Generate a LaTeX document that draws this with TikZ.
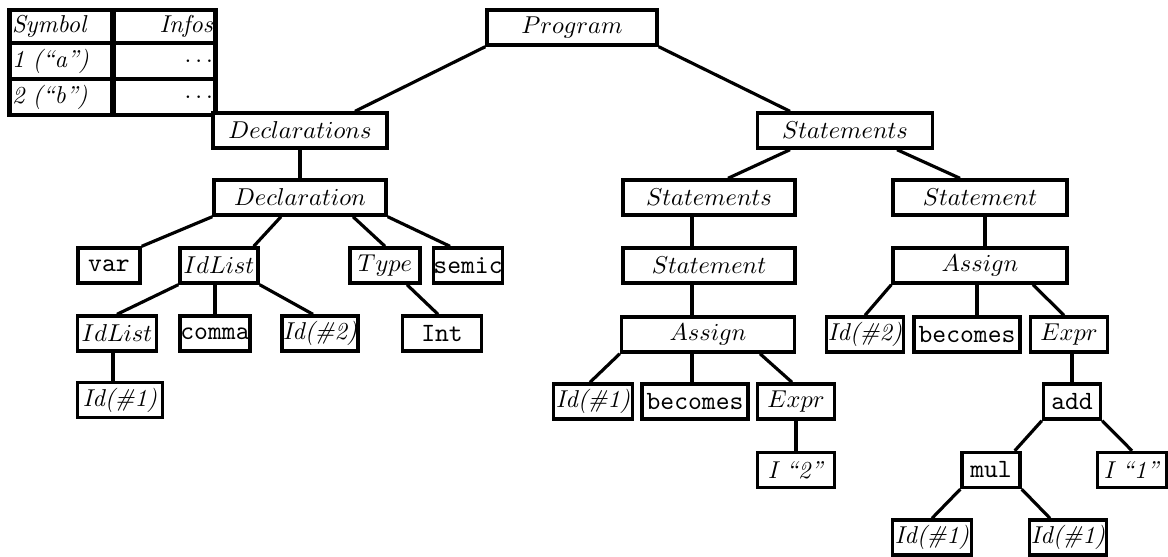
\documentclass[tikz,border=0pt]{standalone}
\usetikzlibrary{calc}
\newlength{\px}
\setlength{\px}{0.0144cm}
\newcommand{\tok}[1]{{\fontsize{10.8}{12}\selectfont\ttfamily #1}}
\begin{document}
\begin{tikzpicture}[
    x=\px, y=-\px,
    box/.style={draw, line width=1.4pt, inner sep=0pt, minimum height=35\px, fill=white},
    cell/.style={draw, line width=1.8pt, inner xsep=1pt, inner ysep=0pt},
    edge/.style={line width=1.3pt},
]
    \useasboundingbox (0,0) rectangle (1168,556);

    % Symbol table
    \node[cell, text width=99\px, align=left, minimum height=33\px] (s11) at (61.5,26.5) {\textit{Symbol}};
    \node[cell, text width=98\px, align=right, minimum height=33\px] (s12) at (164,26.5) {\textit{Infos}};
    \node[cell, text width=99\px, align=left, minimum height=36\px] (s21) at (61.5,61) {\textit{1 (“a”)}};
    \node[cell, text width=98\px, align=right, minimum height=36\px] (s22) at (164,61) {$\ldots$};
    \node[cell, text width=99\px, align=left, minimum height=36\px] (s31) at (61.5,97) {\textit{2 (“b”)}};
    \node[cell, text width=98\px, align=right, minimum height=36\px] (s32) at (164,97) {$\ldots$};

    % Root
    \node[box, minimum width=170\px] (prog) at (572,27.5) {$Program$};

    % Declarations subtree
    \node[box, minimum width=174\px] (decls) at (300,130.5) {$Declarations$};
    \node[box, minimum width=172\px] (decl) at (300,197.5) {$Declaration$};
    \node[box, minimum width=62\px] (var) at (109,265.5) {\tok{var}};
    \node[box, minimum width=78\px] (idl) at (219,265.5) {$IdList$};
    \node[box, minimum width=70\px] (type) at (385,265.5) {$Type$};
    \node[box, minimum width=61\px] (semic) at (468,265.5) {\tok{semic}};
    \node[box, minimum width=79\px] (idlb) at (117,333.5) {$IdList$};
    \node[box, minimum width=70\px] (comma) at (215,333.5) {\tok{comma}};
    \node[box, minimum width=76\px] (idtwo) at (320,333.5) {\textit{Id(\#2)}};
    \node[box, minimum width=79\px] (int) at (442,333.5) {\tok{Int}};
    \node[box, minimum width=85\px] (idonea) at (120,400) {\textit{Id(\#1)}};

    % Statements subtree
    \node[box, minimum width=175\px] (stmts) at (845,130.5) {$Statements$};
    \node[box, minimum width=172\px] (stmtsl) at (709,197.5) {$Statements$};
    \node[box, minimum width=174\px] (stmtr) at (980,197.5) {$Statement$};
    \node[box, minimum width=172\px] (stmtl) at (709,265.5) {$Statement$};
    \node[box, minimum width=174\px] (asgnr) at (980,265.5) {$Assign$};
    \node[box, minimum width=173\px] (asgnl) at (708,334.5) {$Assign$};

    % left assignment
    \node[box, minimum width=79\px] (idoneb) at (593,401.5) {\textit{Id(\#1)}};
    \node[box, minimum width=106\px] (becl) at (695,401.5) {\tok{becomes}};
    \node[box, minimum width=77\px] (exprl) at (796,401.5) {$Expr$};
    \node[box, minimum width=77\px] (itwo) at (796,470) {\textit{I “2”}};

    % right assignment
    \node[box, minimum width=77\px] (idtwob) at (865,334.5) {\textit{Id(\#2)}};
    \node[box, minimum width=106\px] (becr) at (967,334.5) {\tok{becomes}};
    \node[box, minimum width=77\px] (exprr) at (1069,334.5) {$Expr$};
    \node[box, minimum width=57\px] (add) at (1072,401.5) {\tok{add}};
    \node[box, minimum width=58\px] (mul) at (991,470) {\tok{mul}};
    \node[box, minimum width=69\px] (ione) at (1132,470) {\textit{I “1”}};
    \node[box, minimum width=79\px] (idonec) at (932,537.5) {\textit{Id(\#1)}};
    \node[box, minimum width=77\px] (idoned) at (1068,537.5) {\textit{Id(\#1)}};

    % Edges
    \draw[edge] (prog.south west) -- ($(decls.north)+(55,0)$);
    \draw[edge] (prog.south east) -- ($(stmts.north)+(-55,0)$);
    \draw[edge] (decls) -- (decl);
    \draw[edge] (decl.south west) -- (var.north east);
    \draw[edge] ($(decl.south)+(-19,0)$) -- ($(idl.north east)+(-6,0)$);
    \draw[edge] ($(decl.south)+(53,0)$) -- (type.north);
    \draw[edge] (decl.south east) -- ($(semic.north)+(-18,0)$);
    \draw[edge] (idl.south west) -- (idlb.north);
    \draw[edge] (idl.south -| comma) -- (comma);
    \draw[edge] (idl.south east) -- ($(idtwo.north)+(-7,0)$);
    \draw[edge] ($(type.south)+(22,0)$) -- ($(int.north)+(-4,0)$);
    \draw[edge] ($(idlb.south)+(-4,0)$) coordinate (t1) -- (t1 |- idonea.north);

    \draw[edge] ($(stmts.south)+(-55,0)$) -- ($(stmtsl.north)+(19,0)$);
    \draw[edge] ($(stmts.south)+(52,0)$) -- ($(stmtr.north)+(-20,0)$);
    \draw[edge] ($(stmtsl.south)+(-17,0)$) coordinate (t2) -- (t2 |- stmtl.north);
    \draw[edge] ($(stmtl.south)+(-17,0)$) coordinate (t3) -- (t3 |- asgnl.north);
    \draw[edge] ($(stmtr.south)+(5,0)$) coordinate (t4) -- (t4 |- asgnr.north);

    \draw[edge] (asgnl.south west) -- ($(idoneb.north)+(-3,0)$);
    \draw[edge] ($(becl.north)+(-3,0)$) coordinate (t5) -- (t5 |- asgnl.south);
    \draw[edge] ($(asgnl.south)+(52,0)$) -- ($(exprl.north)+(-4,0)$);
    \draw[edge] (exprl) -- (itwo);

    \draw[edge] (asgnr.south west) -- (idtwob.north);
    \draw[edge] ($(becr.north)+(10,0)$) coordinate (t6) -- (t6 |- asgnr.south);
    \draw[edge] ($(asgnr.south)+(53,0)$) -- ($(exprr.north)+(-5,0)$);
    \draw[edge] (exprr.south -| add) -- (add);
    \draw[edge] (add.south west) -- ($(mul.north east)+(-7,0)$);
    \draw[edge] (add.south east) -- (ione.north);
    \draw[edge] (mul.south west) -- (idonec.north);
    \draw[edge] (mul.south east) -- ($(idoned.north)+(-18,0)$);
\end{tikzpicture}
\end{document}
